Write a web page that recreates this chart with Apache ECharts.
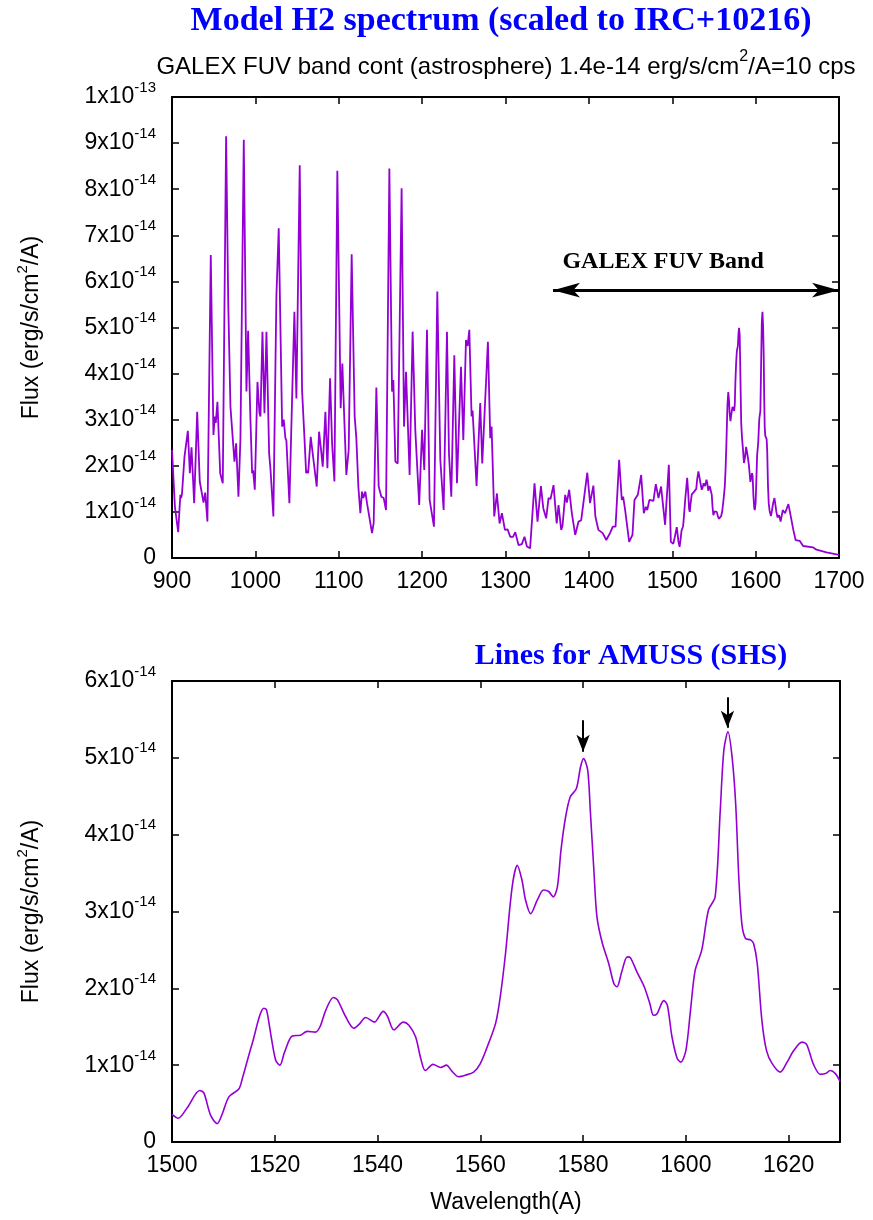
<!DOCTYPE html>
<html>
<head>
<meta charset="utf-8">
<title>Model H2 spectrum</title>
<script src="https://cdn.jsdelivr.net/npm/echarts@6/dist/echarts.min.js"></script>
<style>
  html, body { margin: 0; padding: 0; background: #ffffff; }
  #chart { width: 873px; height: 1220px; }
</style>
</head>
<body>
<div id="chart"></div>
<script>
// Flux values are in units of 1e-14 erg/s/cm^2/A; wavelengths in Angstrom.

// Full model spectrum, 900-1500 A: [wavelength, flux]
const spectrumShort = [
  [900,2.34],[902,2.3],[903.5,1.11],[905,1.07],[907.4,0.56],[910,1.37],[911,1.3],[912,1.4],
  [915,2.2],[916.5,2.23],[919,2.76],[921.4,1.84],[923.4,2.4],[926.6,1.19],[930.2,3.17],
  [933.3,1.66],[934.9,1.7],[937.8,1.2],[939.8,1.42],[942.5,0.79],[946.5,6.57],[949.7,2.67],
  [951.3,3.07],[952.5,2.93],[954.5,3.39],[957.8,1.84],[959.4,1.86],[960.9,1.62],[964.9,9.15],
  [967.5,5.5],[970.1,3.28],[974.9,2.09],[976.9,2.49],[979.7,1.33],[982.1,2.6],[986.1,9.07],
  [989.3,3.61],[991.3,4.93],[994.1,2.99],[996.1,1.84],[997.3,1.9],[999.3,1.48],[1002.5,3.82],
  [1004.9,3.14],[1006.1,3.07],[1008.5,4.91],[1010.9,3.14],[1013.3,4.91],[1016.5,2.27],
  [1018.1,1.93],[1021.6,0.9],[1025.2,5.67],[1028,7.15],[1032.1,2.85],[1034,3.0],[1036,2.6],
  [1037.2,2.55],[1040.8,1.19],[1044,3.43],[1046.8,5.34],[1049.2,3.46],[1053.2,8.52],
  [1056,3.64],[1058.8,2.63],[1060.9,1.84],[1062.5,1.9],[1063.3,1.84],[1066.4,2.63],
  [1069.2,2.2],[1070.8,2.18],[1073.6,1.55],[1076.4,2.74],[1078.8,2.34],[1080.8,1.98],
  [1084,3.17],[1086.4,1.95],[1089.6,3.9],[1092,2.49],[1094.8,1.66],[1098.3,8.4],
  [1102.3,3.25],[1104.3,4.22],[1106.7,2.99],[1109.1,1.8],[1111.9,2.34],[1115.5,6.59],
  [1119.1,3.07],[1121.1,2.6],[1123.5,1.55],[1125.9,0.97],[1127.9,1.44],[1129.5,1.3],
  [1131.9,1.44],[1133.9,1.19],[1135.9,1.17],[1139.9,0.54],[1141.9,0.76],[1145.1,3.7],
  [1147.9,1.55],[1149.9,1.57],[1151.1,1.33],[1153.9,1.3],[1156.7,1.04],[1160.7,8.45],
  [1163.9,3.61],[1165.5,3.86],[1167.9,2.09],[1170.7,2.05],[1175.4,8.02],[1178.3,2.85],
  [1180.7,4.04],[1185,1.8],[1188.6,4.91],[1191.8,2.78],[1196.5,1.15],[1199.9,2.78],
  [1202.6,1.91],[1205.8,4.95],[1209,1.26],[1211,1.26],[1214.2,0.68],[1218.2,5.78],
  [1221.8,2.13],[1225.8,1.04],[1229.8,4.91],[1232.2,2.27],[1235,1.33],[1238.6,4.4],
  [1241.8,1.62],[1246.6,4.15],[1249.4,2.56],[1252.6,4.73],[1254.6,4.6],[1256.6,4.95],
  [1259.3,3.07],[1260.5,3.2],[1265.3,1.56],[1269.7,3.36],[1272.1,2.05],[1278.9,4.69],
  [1281.7,2.6],[1283.3,2.85],[1286.5,0.9],[1289.7,1.4],[1292.9,0.75],[1295.7,0.97],
  [1299.3,0.61],[1302.5,0.62],[1305.7,0.46],[1309,0.46],[1311.7,0.56],[1315.6,0.28],
  [1319.6,0.3],[1322.8,0.46],[1325.7,0.25],[1329.5,0.21],[1334.8,1.62],[1338.4,0.79],
  [1342.5,1.56],[1345.3,1.08],[1348.8,0.86],[1351.6,1.3],[1354,1.28],[1357.6,1.58],
  [1361.4,0.75],[1363.6,1.15],[1366.8,0.61],[1368.4,0.7],[1371.6,1.37],[1373.6,1.2],
  [1376.4,1.48],[1379.6,0.97],[1383.6,0.5],[1387.6,0.79],[1390.8,0.82],[1398.1,1.85],
  [1401.4,1.19],[1405.4,1.57],[1407.8,0.9],[1411.4,0.61],[1416.6,0.54],[1420.9,0.39],
  [1425.3,0.54],[1428.7,0.68],[1432,0.68],[1436.3,2.13],[1439.5,1.26],[1441.1,1.33],
  [1443.5,1.04],[1448.3,0.35],[1452.3,0.5],[1454.7,1.26],[1458.7,1.37],[1462.7,1.8],
  [1465.9,0.97],[1468.3,1.11],[1470,1.04],[1472.6,1.26],[1477.4,1.24],[1480.3,1.6],
  [1483.5,1.3],[1486.6,1.55],[1491.4,0.72],[1495.9,2.02],[1498.3,0.35]
];

// AMUSS (SHS) window, 1500-1630 A: [wavelength, flux]
const spectrumAmuss = [
  [1500,0.36],[1501.2,0.31],[1503,0.45],[1505.4,0.67],[1506.2,0.64],[1507.5,0.35],
  [1508.8,0.24],[1509.8,0.37],[1511.1,0.59],[1513,0.69],[1513.7,0.83],[1515.6,1.28],
  [1517.9,1.74],[1518.4,1.72],[1519.3,1.37],[1520.2,1.06],[1521,1.0],[1521.9,1.17],
  [1523.4,1.38],[1525,1.39],[1526.3,1.44],[1527.9,1.43],[1528.8,1.5],[1529.9,1.71],
  [1531.4,1.88],[1532.2,1.85],[1533.8,1.63],[1535.4,1.48],[1536.4,1.53],[1537.7,1.62],
  [1539.4,1.56],[1541.1,1.7],[1541.9,1.64],[1543.2,1.46],[1545,1.56],[1546.1,1.52],
  [1547.4,1.37],[1548.4,1.09],[1549.3,0.93],[1550.8,1.01],[1552.3,0.97],[1553.4,1.0],
  [1554.5,0.92],[1555.8,0.85],[1557.1,0.87],[1558.7,0.91],[1560,1.02],[1561.7,1.3],
  [1563,1.55],[1563.9,1.9],[1564.9,2.45],[1566.2,3.32],[1567.2,3.6],[1568.1,3.41],
  [1568.8,3.15],[1569.8,2.97],[1571.1,3.15],[1572.3,3.28],[1573.3,3.26],[1574.2,3.19],
  [1575,3.32],[1575.7,3.8],[1576.6,4.23],[1577.5,4.49],[1578.7,4.6],[1579.5,4.88],
  [1580.1,4.99],[1580.9,4.84],[1581.4,4.32],[1582.1,3.54],[1582.7,2.93],[1583.7,2.6],
  [1585,2.32],[1586,2.06],[1586.6,2.02],[1587.5,2.21],[1588.6,2.41],[1589.2,2.4],
  [1590.5,2.21],[1591.9,2.02],[1593,1.8],[1593.7,1.65],[1594.4,1.67],[1595.7,1.84],
  [1596.4,1.78],[1597.3,1.37],[1598.3,1.09],[1599,1.04],[1600,1.19],[1600.9,1.71],
  [1601.8,2.23],[1603.1,2.5],[1604.4,3.02],[1605.7,3.19],[1606.7,4.32],[1607.4,5.1],
  [1608.2,5.34],[1609,5.01],[1609.7,4.4],[1610.3,3.45],[1610.9,2.84],[1611.6,2.65],
  [1612.6,2.63],[1613.2,2.58],[1613.9,2.32],[1614.8,1.58],[1615.7,1.19],[1616.8,1.02],
  [1618.4,0.91],[1619.7,1.04],[1621,1.19],[1622.6,1.3],[1623.5,1.27],[1624.9,1.0],
  [1626.2,0.88],[1627.2,0.89],[1628.1,0.93],[1629.1,0.89],[1630,0.79]
];

// Red end of the model spectrum, 1630-1700 A: [wavelength, flux]
const spectrumTail = [
  [1632.5,1.04],[1635.3,0.97],[1639.3,1.17],[1642,0.92],[1645.2,0.61],[1648,0.39],
  [1653,0.37],[1657,0.26],[1669,0.23],[1673,0.18],[1685,0.12],[1700,0.07]
];

// Axis ticks
const topWaveTicks = { min: 900, max: 1700, step: 100 };
const topFluxTicks = { min: 0, max: 10, step: 1 };
const amussWaveTicks = { min: 1500, max: 1630, step: 20 };
const amussFluxTicks = { min: 0, max: 6, step: 1 };

// GALEX FUV band marker and the two AMUSS target lines
const galexBand = { from: 1357, to: 1700, level: 5.81 };
const galexLabel = { text: 'GALEX FUV Band', wave: 1489, flux: 6.42 };
const amussLines = [
  { wave: 1580, top: 5.49, tip: 5.08 },
  { wave: 1608.1, top: 5.79, tip: 5.39 }
];

const SANS = '"Liberation Sans", Arial, Helvetica, sans-serif';
const SERIF = '"Liberation Serif", "Times New Roman", Times, serif';
const LINE_COLOR = '#9400d3';
const FS = 23;

function makeRich(size, supSize, lh) {
  return {
    m: { fontSize: size, fontFamily: SANS, color: '#000', lineHeight: lh },
    e: { fontSize: supSize, fontFamily: SANS, color: '#000', verticalAlign: 'top', lineHeight: supSize + 1 }
  };
}
const supRich = makeRich(FS, 15, 34);
const subtitleRich = makeRich(24, 16, 36);

function fluxLabel(v) {
  const n = Math.round(v);
  if (n === 0) return '{m|0}';
  if (n === 10) return '{m|1x10}{e|-13}';
  return '{m|' + n + 'x10}{e|-14}';
}
function waveLabel(v) { return String(v); }

const fullSpectrum = spectrumShort.concat(spectrumAmuss, spectrumTail);

function frameAxis(extra) {
  return Object.assign({
    type: 'value',
    axisLine: { show: true, onZero: false, lineStyle: { color: '#000', width: 2 } },
    axisTick: { show: true, inside: true, length: 7, lineStyle: { color: '#000', width: 1.5 } },
    splitLine: { show: false }
  }, extra);
}

const fluxName = '{m|Flux (erg/s/cm}{e|2}{m|/A)}';
const xLabelStyle = { margin: 12, fontSize: FS, fontFamily: SANS, color: '#000', formatter: waveLabel };

const option = {
  animation: false,
  backgroundColor: '#ffffff',
  grid: [
    { left: 172, top: 97, width: 667, height: 461 },
    { left: 172, top: 681, width: 668, height: 461 }
  ],
  xAxis: [
    frameAxis({ gridIndex: 0, position: 'bottom', min: topWaveTicks.min, max: topWaveTicks.max, interval: topWaveTicks.step,
      axisLabel: xLabelStyle }),
    frameAxis({ gridIndex: 0, position: 'top', min: topWaveTicks.min, max: topWaveTicks.max, interval: topWaveTicks.step,
      axisLabel: { show: false } }),
    frameAxis({ gridIndex: 1, position: 'bottom', min: amussWaveTicks.min, max: amussWaveTicks.max, interval: amussWaveTicks.step,
      name: 'Wavelength(A)', nameLocation: 'middle', nameGap: 49,
      nameTextStyle: { fontSize: FS, fontFamily: SANS, color: '#000' },
      axisLabel: Object.assign({}, xLabelStyle, { showMaxLabel: false }) }),
    frameAxis({ gridIndex: 1, position: 'top', min: amussWaveTicks.min, max: amussWaveTicks.max, interval: amussWaveTicks.step,
      axisLabel: { show: false } })
  ],
  yAxis: [
    frameAxis({ gridIndex: 0, position: 'left', min: topFluxTicks.min, max: topFluxTicks.max, interval: topFluxTicks.step,
      name: fluxName, nameLocation: 'middle', nameRotate: 90, nameGap: 123,
      nameTextStyle: { rich: supRich },
      axisLabel: { margin: 16, formatter: fluxLabel, rich: supRich } }),
    frameAxis({ gridIndex: 0, position: 'right', min: topFluxTicks.min, max: topFluxTicks.max, interval: topFluxTicks.step,
      axisLabel: { show: false } }),
    frameAxis({ gridIndex: 1, position: 'left', min: amussFluxTicks.min, max: amussFluxTicks.max, interval: amussFluxTicks.step,
      name: fluxName, nameLocation: 'middle', nameRotate: 90, nameGap: 123,
      nameTextStyle: { rich: supRich },
      axisLabel: { margin: 16, formatter: fluxLabel, rich: supRich } }),
    frameAxis({ gridIndex: 1, position: 'right', min: amussFluxTicks.min, max: amussFluxTicks.max, interval: amussFluxTicks.step,
      axisLabel: { show: false } })
  ],
  graphic: [
    { type: 'text', x: 501, y: 21, style: {
        text: 'Model H2 spectrum (scaled to IRC+10216)', align: 'center', verticalAlign: 'middle',
        font: 'bold 34px ' + SERIF, fill: '#0000ff' } },
    { type: 'text', x: 506, y: 67, style: {
        text: '{m|GALEX FUV band cont (astrosphere) 1.4e-14 erg/s/cm}{e|2}{m|/A=10 cps}',
        rich: subtitleRich, align: 'center', verticalAlign: 'middle' } },
    { type: 'text', x: 631, y: 656, style: {
        text: 'Lines for AMUSS (SHS)', align: 'center', verticalAlign: 'middle',
        font: 'bold 30px ' + SERIF, fill: '#0000ff' } }
  ],
  series: [
    {
      name: 'H2 model', type: 'line', xAxisIndex: 0, yAxisIndex: 0,
      data: fullSpectrum, showSymbol: false, smooth: false,
      lineStyle: { color: LINE_COLOR, width: 1.8 },
      markLine: {
        silent: true, animation: false,
        symbol: ['arrow', 'arrow'], symbolSize: [11, 27],
        lineStyle: { color: '#000', width: 3, type: 'solid' },
        label: { show: false },
        data: [[{ coord: [galexBand.from, galexBand.level] }, { coord: [galexBand.to, galexBand.level] }]]
      },
      markPoint: {
        silent: true, symbol: 'circle', symbolSize: 1,
        itemStyle: { color: 'rgba(0,0,0,0)' },
        label: { show: true, position: 'inside', formatter: galexLabel.text,
          fontFamily: SERIF, fontWeight: 'bold', fontSize: 24, color: '#000' },
        data: [{ coord: [galexLabel.wave, galexLabel.flux] }]
      }
    },
    {
      name: 'AMUSS window', type: 'line', xAxisIndex: 2, yAxisIndex: 2,
      data: spectrumAmuss, showSymbol: false, smooth: 0.3,
      lineStyle: { color: LINE_COLOR, width: 1.6 },
      markLine: {
        silent: true, animation: false,
        symbol: ['none', 'arrow'], symbolSize: [10, 17],
        lineStyle: { color: '#000', width: 2, type: 'solid' },
        label: { show: false },
        data: amussLines.map(l => [{ coord: [l.wave, l.top] }, { coord: [l.wave, l.tip] }])
      }
    }
  ]
};

const chart = echarts.init(document.getElementById('chart'), null, { renderer: 'canvas' });
chart.setOption(option);
</script>
</body>
</html>
